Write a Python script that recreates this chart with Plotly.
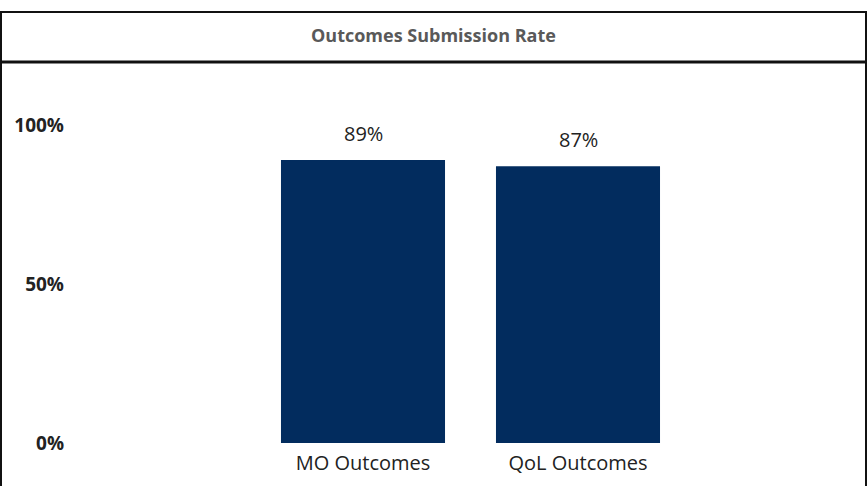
import plotly.graph_objects as go

categories = ["MO Outcomes", "QoL Outcomes"]
values = [0.89, 0.87]
tick_vals = [0, 0.5, 1.0]
tick_text = ["0%", "50%", "100%"]
title_text = "Outcomes Submission Rate"

W, H = 867, 486
def py(p):
    return 1 - p / H

fig = go.Figure()
fig.add_trace(go.Bar(
    x=categories, y=values,
    marker=dict(color="#022C5E", line=dict(width=0)),
    hoverinfo="skip",
))

for c, v in zip(categories, values):
    fig.add_annotation(
        x=c, y=v, xref="x", yref="y",
        text=f"{round(v*100)}%", showarrow=False,
        yanchor="bottom", yshift=11,
        font=dict(family="Open Sans", size=20, color="#222222"),
    )

fig.add_annotation(
    x=0.5, y=py(35), xref="paper", yref="paper",
    text=f"<b>{title_text}</b>", showarrow=False,
    xanchor="center", yanchor="middle",
    font=dict(family="Open Sans", size=18, color="#595959"),
)

# outer frame and title divider
fig.add_shape(type="rect", xref="paper", yref="paper",
              x0=1 / W, x1=1 - 1 / W, y0=-0.05, y1=py(12),
              line=dict(color="#111111", width=2), layer="above")
fig.add_shape(type="line", xref="paper", yref="paper",
              x0=0, x1=1, y0=py(62), y1=py(62),
              line=dict(color="#111111", width=3), layer="above")

x_left = 255.5 / W
x_right = 685.5 / W
fig.update_layout(
    width=W, height=H,
    margin=dict(l=0, r=0, t=0, b=0, pad=0, autoexpand=False),
    paper_bgcolor="white", plot_bgcolor="white",
    showlegend=False,
    bargap=0.237,
    xaxis=dict(
        domain=[x_left, x_right], range=[-0.5, 1.5],
        showgrid=False, zeroline=False, showline=False, ticks="",
        automargin=False,
        tickfont=dict(family="Open Sans", size=20, color="#222222"),
        ticklabelstandoff=6,
    ),
    yaxis=dict(
        domain=[py(443), py(125)], range=[0, 1.0],
        anchor="free", position=64 / W,
        automargin=False,
        tickvals=tick_vals, ticktext=[f"<b>{t}</b>" for t in tick_text],
        showgrid=False, zeroline=False, showline=False, ticks="",
        tickfont=dict(family="Open Sans", size=19, color="#222222"),
    ),
)

post_js = (
    "document.documentElement.style.margin='0';"
    "document.documentElement.style.padding='0';"
    "document.documentElement.style.overflow='hidden';"
    "document.body.style.margin='0';"
    "document.body.style.padding='0';"
    "document.body.style.overflow='hidden';"
)

fig.write_html("out.html", post_script=post_js, config={"displayModeBar": False})
